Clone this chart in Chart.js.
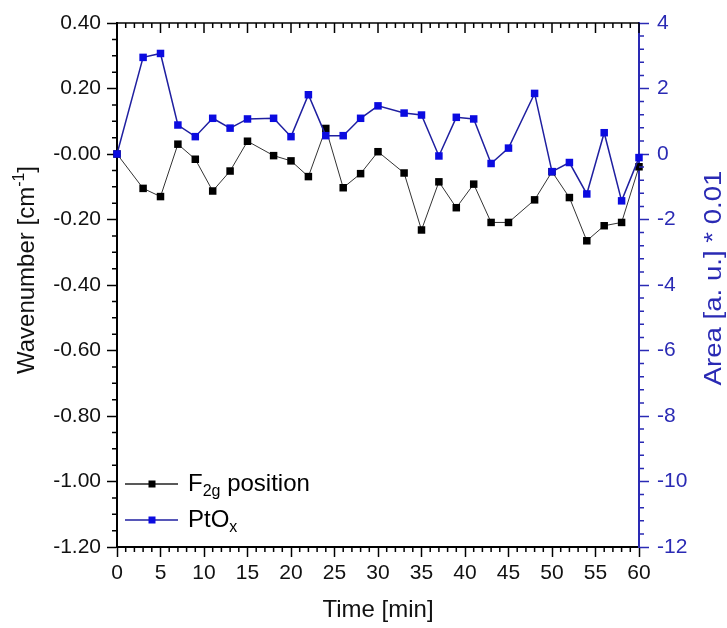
<!DOCTYPE html>
<html>
<head>
<meta charset="utf-8">
<script src="https://cdn.jsdelivr.net/npm/chart.js@4.4.1/dist/chart.umd.min.js"></script>
<style>
  body { margin: 0; background: #fff; }
</style>
</head>
<body>
<canvas id="ramanChart" width="727" height="628"></canvas>
<script>
const timeMin = [0, 3, 5, 7, 9, 11, 13, 15, 18, 20, 22, 24, 26, 28, 30, 33, 35, 37, 39, 41, 43, 45, 48, 50, 52, 54, 56, 58, 60];
const f2gShift = [0, -0.105, -0.13, 0.03, -0.016, -0.113, -0.052, 0.039, -0.005, -0.021, -0.069, 0.078, -0.103, -0.06, 0.007,
  -0.058, -0.232, -0.085, -0.164, -0.092, -0.209, -0.209, -0.14, -0.054, -0.133, -0.265, -0.219, -0.209, -0.039];
const ptoxArea = [0, 2.95, 3.07, 0.885, 0.53, 1.09, 0.79, 1.07, 1.09, 0.53, 1.81, 0.56, 0.56, 1.09, 1.47,
  1.25, 1.19, -0.06, 1.12, 1.07, -0.29, 0.18, 1.85, -0.54, -0.26, -1.22, 0.65, -1.43, -0.11];

const timeTicks = [0, 5, 10, 15, 20, 25, 30, 35, 40, 45, 50, 55, 60];
const wavenumberTicks = [-1.2, -1.0, -0.8, -0.6, -0.4, -0.2, 0, 0.2, 0.4];
const areaTicks = [-12, -10, -8, -6, -4, -2, 0, 2, 4];

const FONT = "'Liberation Sans', Arial, sans-serif";
const BLUE_AXIS = '#2a2ab4';
const BLUE_LINE = '#1f1fa0';
const BLUE_MARK = '#0b0be0';

const pts = vals => timeMin.map((t, i) => ({ x: t, y: vals[i] }));
const fixTicks = arr => scale => { scale.ticks = arr.map(v => ({ value: v })); };

// text made of pieces: [text, 0 normal | 1 subscript | -1 superscript]
function richText(ctx, parts, x, y, size, align) {
  const small = Math.round(size * 0.65);
  const fontFor = k => (k ? small : size) + 'px ' + FONT;
  let total = 0;
  parts.forEach(([t, k]) => { ctx.font = fontFor(k); total += ctx.measureText(t).width; });
  let tx = align === 'center' ? x - total / 2 : x;
  parts.forEach(([t, k]) => {
    ctx.font = fontFor(k);
    ctx.fillText(t, tx, y + k * size * 0.32);
    tx += ctx.measureText(t).width;
  });
}

// minor ticks, top frame, vertical titles, legend with subscripts
const axisDecor = {
  id: 'axisDecor',
  afterDraw(chart) {
    const { ctx, chartArea: a, scales: { x, y, y2 } } = chart;
    ctx.save();
    ctx.lineWidth = 1.5;
    ctx.strokeStyle = '#000';
    ctx.beginPath();
    ctx.moveTo(a.left, a.top);
    ctx.lineTo(a.right, a.top);
    ctx.stroke();

    ctx.beginPath();
    for (let t = 0; t <= 60; t++) {
      const px = x.getPixelForValue(t);
      const major = t % 5 === 0;
      ctx.moveTo(px, a.top);
      ctx.lineTo(px, a.top + (major ? 10 : 5));
      if (!major) {
        ctx.moveTo(px, a.bottom);
        ctx.lineTo(px, a.bottom + 5);
      }
    }
    for (let k = -24; k <= 8; k++) {
      if (k % 4 === 0) continue;
      const py = y.getPixelForValue(k * 0.05);
      ctx.moveTo(a.left, py);
      ctx.lineTo(a.left - 5, py);
    }
    ctx.stroke();

    ctx.strokeStyle = BLUE_AXIS;
    ctx.beginPath();
    for (let k = -30; k <= 10; k++) {
      if (k % 5 === 0) continue;
      const py = y2.getPixelForValue(k * 0.4);
      ctx.moveTo(a.right, py);
      ctx.lineTo(a.right + 5, py);
    }
    ctx.stroke();
    ctx.restore();

    ctx.save();
    ctx.textBaseline = 'middle';
    ctx.textAlign = 'left';
    // left title
    ctx.save();
    ctx.fillStyle = '#111';
    ctx.translate(27, 270);
    ctx.rotate(-Math.PI / 2);
    richText(ctx, [['Wavenumber [cm', 0], ['-1', -1], [']', 0]], 0, 0, 24, 'center');
    ctx.restore();
    // right title
    ctx.save();
    ctx.fillStyle = BLUE_AXIS;
    ctx.translate(715, 278);
    ctx.rotate(-Math.PI / 2);
    ctx.scale(1.2, 1);
    richText(ctx, [['Area [a. u.] * 0.01', 0]], 0, 0, 23, 'center');
    ctx.restore();

    // legend
    const rows = [
      { parts: [['F', 0], ['2g', 1], [' position', 0]], line: '#222', mark: '#000', y: a.bottom - 63 },
      { parts: [['PtO', 0], ['x', 1]], line: BLUE_LINE, mark: BLUE_MARK, y: a.bottom - 27 }
    ];
    rows.forEach(r => {
      ctx.strokeStyle = r.line;
      ctx.lineWidth = 1.5;
      ctx.beginPath();
      ctx.moveTo(a.left + 8, r.y);
      ctx.lineTo(a.left + 61, r.y);
      ctx.stroke();
      ctx.fillStyle = r.mark;
      ctx.fillRect(a.left + 35 - 3.5, r.y - 3.5, 7, 7);
      ctx.fillStyle = '#000';
      richText(ctx, r.parts, a.left + 71, r.y, 24, 'left');
    });
    ctx.restore();
  }
};

new Chart(document.getElementById('ramanChart'), {
  type: 'line',
  data: {
    datasets: [{
      label: 'PtOx',
      data: pts(ptoxArea),
      yAxisID: 'y2',
      borderColor: BLUE_LINE,
      borderWidth: 1.5,
      pointStyle: 'rect',
      pointRadius: 5.3,
      pointBackgroundColor: BLUE_MARK,
      pointBorderWidth: 0,
      tension: 0,
      clip: false
    }, {
      label: 'F2g position',
      data: pts(f2gShift),
      yAxisID: 'y',
      borderColor: '#333',
      borderWidth: 1,
      pointStyle: 'rect',
      pointRadius: 5.3,
      pointBackgroundColor: '#000',
      pointBorderWidth: 0,
      tension: 0,
      clip: false
    }]
  },
  options: {
    responsive: false,
    animation: false,
    layout: { padding: { top: 23, left: 0, right: 0, bottom: 0 } },
    plugins: { legend: { display: false }, tooltip: { enabled: false } },
    scales: {
      x: {
        type: 'linear',
        min: 0,
        max: 60,
        afterBuildTicks: fixTicks(timeTicks),
        afterFit: s => { s.height = 81; },
        ticks: { color: '#111', font: { size: 21, family: FONT }, padding: 4, autoSkip: false, maxRotation: 0 },
        grid: { drawOnChartArea: false, tickLength: 10, tickWidth: 1.5, color: '#000' },
        border: { color: '#000', width: 2 },
        title: { display: true, text: 'Time [min]', color: '#111', font: { size: 24, family: FONT }, padding: { top: 0, bottom: 3 } }
      },
      y: {
        position: 'left',
        min: -1.2,
        max: 0.4,
        afterBuildTicks: fixTicks(wavenumberTicks),
        afterFit: s => { s.width = 117; },
        ticks: {
          color: '#111', font: { size: 21, family: FONT }, padding: 6, autoSkip: false,
          callback: v => Math.abs(v) < 1e-9 ? '-0.00' : v.toFixed(2)
        },
        grid: { drawOnChartArea: false, tickLength: 10, tickWidth: 1.5, color: '#000' },
        border: { color: '#000', width: 2 }
      },
      y2: {
        position: 'right',
        min: -12,
        max: 4,
        afterBuildTicks: fixTicks(areaTicks),
        afterFit: s => { s.width = 88; },
        ticks: { color: BLUE_AXIS, font: { size: 21, family: FONT }, padding: 8, autoSkip: false },
        grid: { drawOnChartArea: false, tickLength: 10, tickWidth: 1.5, color: BLUE_AXIS },
        border: { color: BLUE_AXIS, width: 2 }
      }
    }
  },
  plugins: [axisDecor]
});
</script>
</body>
</html>
